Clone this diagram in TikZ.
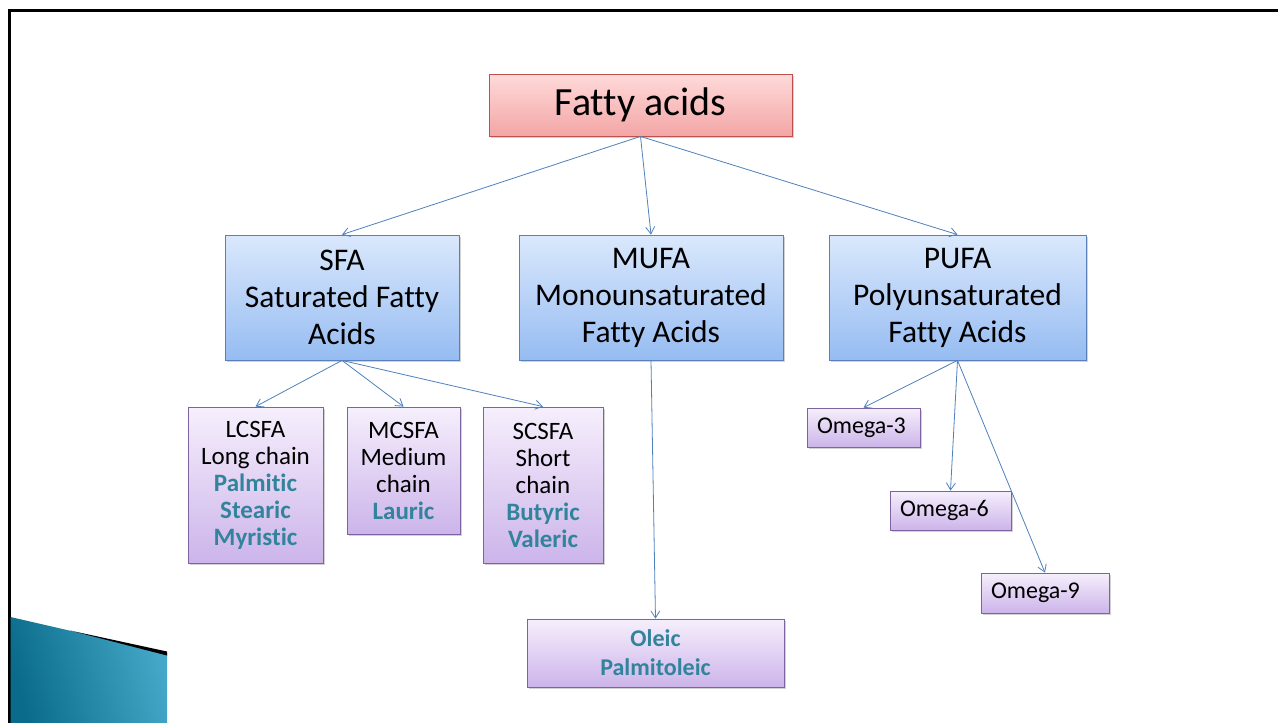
\documentclass[tikz,border=0pt]{standalone}
\usepackage{fontspec}
\setmainfont{Carlito}[Ligatures=NoCommon]
\usetikzlibrary{arrows.meta,shadows}
\definecolor{arrowblue}{RGB}{79,129,189}
\definecolor{tealtext}{RGB}{49,132,155}
\definecolor{pinktop}{RGB}{255,218,218}
\definecolor{pinkbot}{RGB}{243,165,165}
\definecolor{pinkedge}{RGB}{190,80,78}
\definecolor{bluetop}{RGB}{218,232,252}
\definecolor{bluebot}{RGB}{150,188,242}
\definecolor{blueedge}{RGB}{90,128,185}
\definecolor{purptop}{RGB}{246,239,252}
\definecolor{purpbot}{RGB}{204,180,234}
\definecolor{purpedge}{RGB}{125,100,160}
\definecolor{tealdark}{RGB}{10,108,138}
\definecolor{teallight}{RGB}{70,168,200}
\tikzset{
  boxbase/.style={rectangle, inner sep=0pt, align=center, line width=0.8pt,
    drop shadow={opacity=0.35, shadow xshift=2pt, shadow yshift=-2pt}},
  pinkbox/.style={boxbase, draw=pinkedge, top color=pinktop, bottom color=pinkbot,
    font=\fontsize{40}{46}\selectfont},
  bluebox/.style={boxbase, draw=blueedge, top color=bluetop, bottom color=bluebot,
    font=\fontsize{31.5}{37}\selectfont},
  purpbox/.style={boxbase, draw=purpedge, top color=purptop, bottom color=purpbot,
    font=\fontsize{25}{27}\selectfont},
  omegabox/.style={purpbox, align=left, inner xsep=10pt, font=\fontsize{24}{27}\selectfont},
  arr/.style={draw=arrowblue, line width=0.8pt, -{Straight Barb[length=7pt,width=9pt]}}
}
\newcommand{\acidname}[1]{\textcolor{tealtext}{\bfseries #1}}
\begin{document}
\begin{tikzpicture}[x=1pt,y=-1pt]
\useasboundingbox (0,0) rectangle (1278,723);
\fill[white] (0,0) rectangle (1278,723);
% frame
\draw[line width=3pt, black] (9,723) -- (9,10) -- (1278,10);
% teal decoration
\shade[left color=tealdark, right color=teallight, shading angle=105]
  (10.5,617) -- (167,653) -- (167,723) -- (10.5,723) -- cycle;
\fill[black] (70,630.5) -- (167,651.5) -- (167,655.5) -- cycle;
% nodes
\node[pinkbox, minimum width=303pt, minimum height=62pt] (fa) at (640.5,105) {Fatty acids};
\node[bluebox, minimum width=234pt, minimum height=125pt] (sfa) at (342,297.5) {SFA\\Saturated Fatty\\Acids};
\node[bluebox, minimum width=264pt, minimum height=125pt] (mufa) at (651,297.5) {MUFA\\Monounsaturated\\Fatty Acids};
\node[bluebox, minimum width=257pt, minimum height=125pt] (pufa) at (957.5,297.5) {PUFA\\Polyunsaturated\\Fatty Acids};
\node[purpbox, minimum width=135pt, minimum height=156pt] (lc) at (255.5,485) {LCSFA\\Long chain\\\acidname{Palmitic}\\\acidname{Stearic}\\\acidname{Myristic}};
\node[purpbox, minimum width=113pt, minimum height=127pt] (mc) at (403.5,470.5) {MCSFA\\Medium\\chain\\\acidname{Lauric}};
\node[purpbox, minimum width=120pt, minimum height=156pt] (sc) at (543,485) {SCSFA\\Short\\chain\\\acidname{Butyric}\\\acidname{Valeric}};
\node[purpbox, minimum width=257pt, minimum height=68pt, font=\fontsize{24}{29}\selectfont] (ol) at (655.5,653) {\acidname{Oleic}\\\acidname{Palmitoleic}};
\node[omegabox, text width=93pt, minimum height=39pt] (o3) at (863.5,427.5) {Omega-3};
\node[omegabox, text width=101pt, minimum height=39pt] (o6) at (950.5,510.5) {Omega-6};
\node[omegabox, text width=108pt, minimum height=40pt] (o9) at (1045,593) {Omega-9};
% connectors
\draw[arr] (fa.south) -- (sfa.north);
\draw[arr] (fa.south) -- (mufa.north);
\draw[arr] (fa.south) -- (pufa.north);
\draw[arr] (sfa.south) -- (lc.north);
\draw[arr] (sfa.south) -- (mc.north);
\draw[arr] (sfa.south) -- (sc.north);
\draw[arr] (mufa.south) -- (ol.north);
\draw[arr] (pufa.south) -- (o3.north);
\draw[arr] (pufa.south) -- (o6.north);
\draw[arr] (pufa.south) -- (o9.north);
\end{tikzpicture}
\end{document}
